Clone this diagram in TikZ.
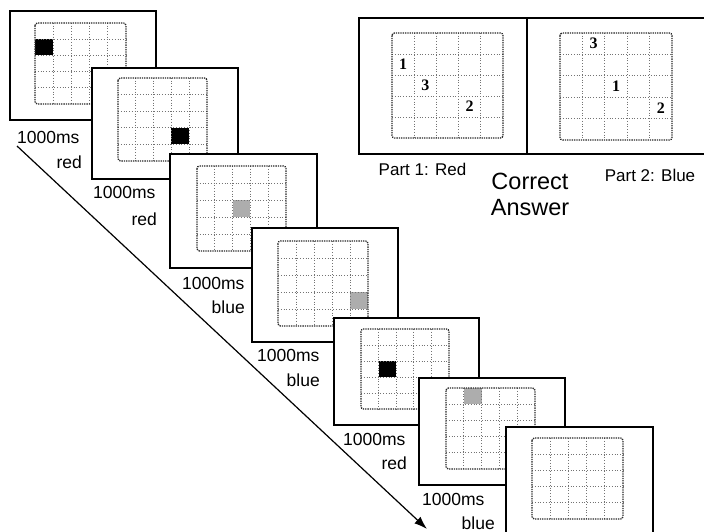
\documentclass[tikz,border=0pt]{standalone}
\usepackage{fontspec}
\setmainfont{Liberation Sans}
\newfontfamily\numfont{Liberation Serif}
\usetikzlibrary{arrows.meta}

\tikzset{
  stimframe/.style={draw=black, fill=white, line width=1.7pt, inner sep=0pt, anchor=north west},
  gridline/.style={draw=black!55, dotted, line width=0.75pt},
  gridborder/.style={draw=black!85, densely dotted, line width=1.3pt, rounded corners=2.5pt},
  lbl/.style={font=\fontsize{17.5}{17.5}\selectfont, inner sep=0pt},
  partlbl/.style={font=\fontsize{17}{17}\selectfont, inner sep=0pt},
  biglbl/.style={font=\fontsize{23.5}{23.5}\selectfont, inner sep=0pt},
  num/.style={font=\numfont\bfseries\fontsize{16}{16}\selectfont, inner sep=0pt},
  blackcell/.style={fill=black},
  graycell/.style={fill=black!32},
  timearrow/.style={-{Latex[length=13pt,width=9pt]}, line width=1.2pt}
}

% frame: name, x1, y1, x2, y2
\newcommand\stimbox[5]{%
  \node[stimframe, minimum width={#4pt-#2pt}, minimum height={#5pt-#3pt}] (#1) at (#2,#3) {};%
}
% grid: x1 y1 x2 y2
\newcommand\stimgrid[4]{%
  \pgfmathsetmacro\gw{(#3-#1)/5}\pgfmathsetmacro\gh{(#4-#2)/5}%
  \foreach \i in {1,...,4}{%
    \draw[gridline] ({#1+\i*\gw},#2) -- ({#1+\i*\gw},#4);
    \draw[gridline] (#1,{#2+\i*\gh}) -- (#3,{#2+\i*\gh});
  }%
  \draw[gridborder] (#1,#2) rectangle (#3,#4);%
}
% cell: x1 y1 x2 y2 col row style
\newcommand\stimcell[7]{%
  \pgfmathsetmacro\gw{(#3-#1)/5}\pgfmathsetmacro\gh{(#4-#2)/5}%
  \fill[#7] ({#1+#5*\gw},{#2+#6*\gh}) rectangle ({#1+(#5+1)*\gw},{#2+(#6+1)*\gh});%
}
% number in cell: name x1 y1 x2 y2 col row text
\newcommand\stimnum[8]{%
  \pgfmathsetmacro\gw{(#4-#2)/5}\pgfmathsetmacro\gh{(#5-#3)/5}%
  \node[num] (#1) at ({#2+(#6+0.5)*\gw},{#3+(#7+0.5)*\gh}) {#8};%
}

\begin{document}
\begin{tikzpicture}[x=1pt,y=-1pt]
\clip (0,0) rectangle (704,532);
\fill[white] (0,0) rectangle (704,532);

% ---- sequence of frames ----
\stimbox{f1}{9}{10}{155}{119}
\stimcell{35}{23}{126}{104}{0}{1}{blackcell}
\stimgrid{35}{23}{126}{104}

\stimbox{f2}{91}{67}{237}{178}
\stimcell{118}{78}{207}{161}{3}{3}{blackcell}
\stimgrid{118}{78}{207}{161}

\stimbox{f3}{169}{153}{316}{267}
\stimcell{197}{166}{286}{251}{2}{2}{graycell}
\stimgrid{197}{166}{286}{251}

\stimbox{f4}{251}{227}{397}{341}
\stimcell{278}{241}{368}{326}{4}{3}{graycell}
\stimgrid{278}{241}{368}{326}

\stimbox{f5}{333}{317}{478}{424}
\stimcell{361}{329}{449}{409}{1}{2}{blackcell}
\stimgrid{361}{329}{449}{409}

\stimbox{f6}{418}{377}{564}{484}
\stimcell{446}{388}{535}{469}{1}{0}{graycell}
\stimgrid{446}{388}{535}{469}

\stimbox{f7}{505}{426}{652}{545}
\stimgrid{532}{438}{623}{519}

% ---- labels ----
\node[lbl, anchor=west] (t1) at (17,137) {1000ms};
\node[lbl, anchor=east] (c1) at (82,162) {red};
\node[lbl, anchor=west] (t2) at (93,192) {1000ms};
\node[lbl, anchor=east] (c2) at (157,219) {red};
\node[lbl, anchor=west] (t3) at (182,283) {1000ms};
\node[lbl, anchor=east] (c3) at (245,307) {blue};
\node[lbl, anchor=west] (t4) at (257,355) {1000ms};
\node[lbl, anchor=east] (c4) at (320,380) {blue};
\node[lbl, anchor=west] (t5) at (343,439) {1000ms};
\node[lbl, anchor=east] (c5) at (407,463) {red};
\node[lbl, anchor=west] (t6) at (422,499) {1000ms};
\node[lbl, anchor=east] (c6) at (495,523) {blue};

% ---- time arrow ----
\coordinate (arrowstart) at (17,146);
\coordinate (arrowend) at (427,529);
\draw[timearrow] (arrowstart) -- (arrowend);

% ---- correct answer panels ----
\stimbox{ans1}{358}{17}{526}{153}
\stimgrid{392}{33}{503}{138}
\stimnum{a11}{392}{33}{503}{138}{0}{1}{1}
\stimnum{a12}{392}{33}{503}{138}{3}{3}{2}
\stimnum{a13}{392}{33}{503}{138}{1}{2}{3}

\stimbox{ans2}{526}{17}{710}{153}
\stimgrid{560}{33}{672}{140}
\stimnum{a21}{560}{33}{672}{140}{2}{2}{1}
\stimnum{a22}{560}{33}{672}{140}{4}{3}{2}
\stimnum{a23}{560}{33}{672}{140}{1}{0}{3}

\node[partlbl] (p1) at (422.5,169) {Part 1: Red};
\node[partlbl] (p2) at (650,175) {Part 2: Blue};
\node[biglbl] (corr) at (530,181) {Correct};
\node[biglbl] (answ) at (530,208) {Answer};
\end{tikzpicture}
\end{document}
